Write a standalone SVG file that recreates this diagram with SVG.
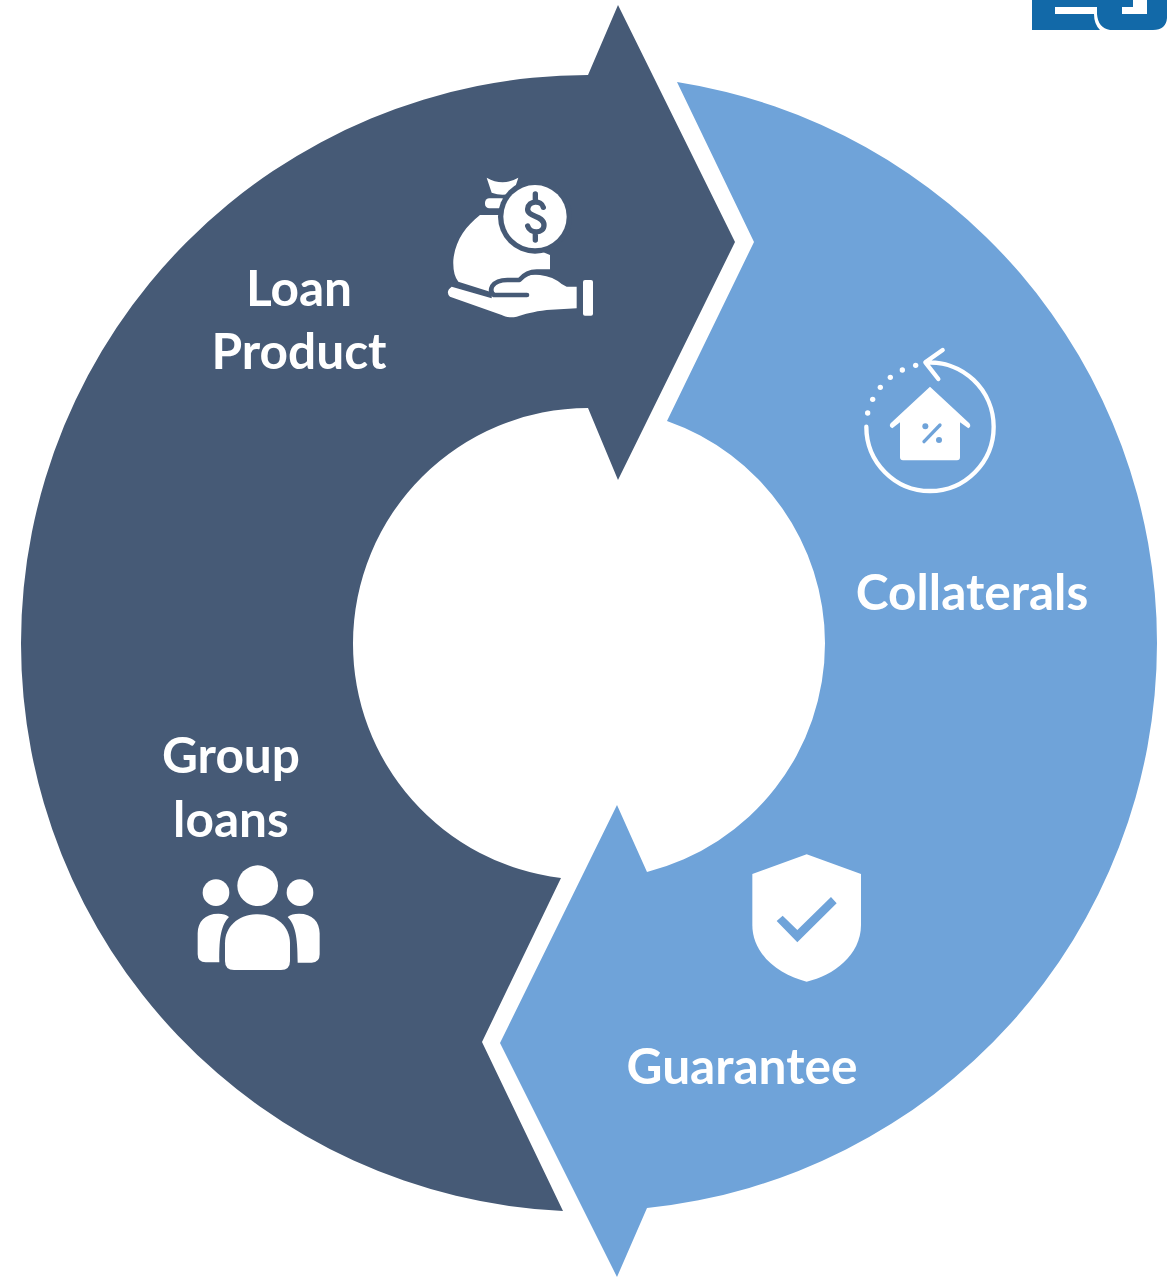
<svg xmlns="http://www.w3.org/2000/svg" width="1167" height="1277" viewBox="0 0 1167 1277">
<style>
.lbl{font-family:"Lato","Noto Sans",sans-serif;font-weight:700;font-size:49.6px;fill:#fff;text-anchor:middle}
.w{fill:#fff}
.d{fill:#465a76}
.l{fill:#6fa3d9}
</style>
<rect width="1167" height="1277" fill="#fff"/>
<g id="logo">
<path fill="#1269a8" d="M1032 0H1133V7H1122V14H1147V0H1167V18Q1166 30 1153 30H1110Q1098 28 1097 14V7H1055V14H1094Q1094 24 1100 30H1032Z"/>
</g>
<g id="loan-product">
<path class="d" d="M618 5L735 242L618 480L588 408A235.500 235.500 0 0 0 353 643A236 236 0 0 0 561 878L482 1042L563 1211A568 568 0 0 1 21 643A568 568 0 0 1 588 75Z"/>
<g transform="translate(430 160) scale(.33333)">
<path class="w" d="M170 53Q218 80 265 53L250 98Q218 110 185 98Z"/>
<rect class="w" x="165" y="115" width="62" height="30" rx="13"/>
<path class="w" d="M150 165H215L300 260L360 285L360 333H300L270 355Q205 355 190 375L180 395L85 365Q68 345 70 300C75 245 105 200 150 165Z"/>
<circle class="d" cx="315" cy="170" r="111"/>
<circle class="w" cx="315" cy="170" r="95"/>
<path fill="none" stroke="#465a76" stroke-width="16" stroke-linecap="round" d="M340 142C335 120 295 120 293 147C291 172 342 165 342 195C342 222 300 222 293 198M316 102V122M316 218V240"/>
<path class="w" d="M65 380L185 415L187 378Q200 360 268 360Q290 340 330 345Q370 350 395 372L410 380H440V445L350 450C310 455 285 462 260 470C240 475 225 470 215 465L60 410Q45 395 65 380Z"/>
<path fill="none" stroke="#465a76" stroke-width="14" stroke-linecap="round" stroke-linejoin="round" d="M291 405H192Q178 395 187 378Q200 360 232 360H268Q290 335 320 335H360"/>
<rect class="w" x="459" y="360" width="30" height="107" rx="6"/>
</g>
<text class="lbl" x="299" y="306">Loan</text>
<text class="lbl" x="299" y="369">Product</text>
</g>
<g id="group-loans">
<g transform="translate(185 855) scale(.33333)">
<circle class="w" cx="218" cy="92" r="61"/>
<circle class="w" cx="93" cy="113" r="40"/>
<circle class="w" cx="345" cy="113" r="40"/>
<path class="w" d="M120 265C120 215 160 178 218 178C275 178 315 215 315 265V318Q315 345 288 345H147Q120 345 120 318Z"/>
<path class="w" d="M132 186C110 210 102 240 103 322H62Q38 322 38 298V235C38 200 60 176 100 176Q120 176 132 186Z"/>
<path class="w" d="M308 186C330 210 338 240 338 323H380Q404 323 404 298V235C404 200 382 176 342 176Q320 176 308 186Z"/>
</g>
<text class="lbl" x="231" y="773">Group</text>
<text class="lbl" x="231" y="837">loans</text>
</g>
<g id="collaterals">
<path class="l" d="M677 82A568 568 0 0 1 1157 643A568 568 0 0 1 647 1208L617 1277L500 1043L617 805L647 872A236 236 0 0 0 825 643A236 236 0 0 0 667 421L754 242Z"/>
<g transform="translate(850 335) scale(.33333)">
<path fill="none" stroke="#fff" stroke-width="13" stroke-linecap="round" stroke-linejoin="round" d="M49 275A191 193 0 0 0 431 275A191 193 0 0 0 228 83M278 45L226 82L265 132"/>
<g class="w">
<circle cx="197" cy="91" r="8"/><circle cx="157" cy="105" r="8"/><circle cx="121" cy="127" r="8"/><circle cx="91" cy="157" r="8"/><circle cx="68" cy="193" r="8"/><circle cx="53" cy="234" r="8"/>
</g>
<path class="w" d="M240 155L358 265Q365 275 355 280L330 262V367Q330 376 321 376H159Q150 376 150 367V262L127 280Q115 275 122 265Z"/>
<circle class="l" cx="226" cy="274" r="9"/>
<circle class="l" cx="267" cy="315" r="9"/>
<path fill="none" stroke="#6fa3d9" stroke-width="10" stroke-linecap="round" d="M222 320L270 270"/>
</g>
<text class="lbl" x="972" y="610">Collaterals</text>
</g>
<g id="guarantee">
<g transform="translate(740 845) scale(.33333)">
<path class="w" d="M200 28L363 87V240C363 330 280 392 200 410C120 392 37 330 37 240V87Z"/>
<path class="l" d="M110 228L128 212L172 255L273 156L290 175L172 292Z"/>
</g>
<text class="lbl" x="742" y="1084">Guarantee</text>
</g>
</svg>
